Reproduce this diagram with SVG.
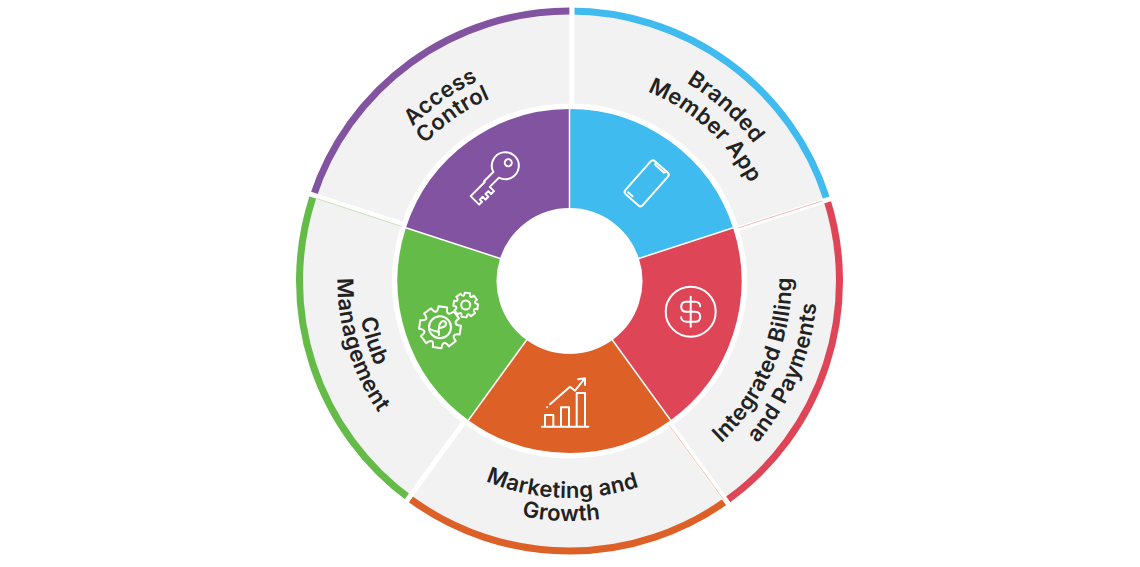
<svg xmlns="http://www.w3.org/2000/svg" width="1140" height="567" viewBox="0 0 1140 567">
<style>
.gray{fill:none;stroke:#f2f2f2;stroke-width:89.5}
.ring,.core{fill:none}
.ring{stroke-width:7}
.core{stroke-width:99}
.ic{fill:none;stroke:#fff;stroke-width:2;stroke-linejoin:round;stroke-linecap:round}
.lb{font-family:"Inter","Liberation Sans",sans-serif;font-weight:600;font-size:22px;letter-spacing:.3px;fill:#222;text-anchor:middle}
.sp{stroke:#fff;stroke-width:5}
.th{stroke:#fff;stroke-width:1.5}
.hair{stroke-width:.6;opacity:.6}
</style>
<defs>
<path id="aG" d="M569.5 58.75A222.25 222.25 0 0 1 780.87 212.32"/>
<path id="aR" d="M569.5 11A270 270 0 0 1 826.28 197.57"/>
<path id="aC" d="M569.5 158.5A122.5 122.5 0 0 1 686 243.14"/>
<path id="t1" d="M428.08 112.48A220 220 0 0 1 710.92 112.48"/>
<path id="t2" d="M441.58 128.57A199 199 0 0 1 697.42 128.57"/>
<path id="t3" d="M421.66 104.82A230 230 0 0 1 717.34 104.82"/>
<path id="t4" d="M437.73 123.97A205 205 0 0 1 701.27 123.97"/>
<path id="b1" d="M430.01 447.22A217 217 0 0 0 708.99 447.22"/>
<path id="b2" d="M415.23 464.84A240 240 0 0 0 723.77 464.84"/>
<path id="b3" d="M433.23 443.39A212 212 0 0 0 705.77 443.39"/>
<path id="b4" d="M420.37 458.71A232 232 0 0 0 718.63 458.71"/>
<path id="b5" d="M426.8 451.05A222 222 0 0 0 712.2 451.05"/>
<path id="b6" d="M410.09 470.97A248 248 0 0 0 728.91 470.97"/>
<path id="gear" vector-effect="non-scaling-stroke" d="M-4.16-19.56L4.16-19.56C4.09-13.39 6.57-12.36 10.89-16.77L16.77-10.89C12.36-6.57 13.39-4.09 19.56-4.16L19.56 4.16C13.39 4.09 12.36 6.57 16.77 10.89L10.89 16.77C6.57 12.36 4.09 13.39 4.16 19.56L-4.16 19.56C-4.09 13.39-6.57 12.36-10.89 16.77L-16.77 10.89C-12.36 6.57-13.39 4.09-19.56 4.16L-19.56-4.16C-13.39-4.09-12.36-6.57-16.77-10.89L-10.89-16.77C-6.57-12.36-4.09-13.39-4.16-19.56Z"/>
</defs>
<rect width="1140" height="567" fill="#fff"/>

<g id="branded-member-app">
<use href="#aG" class="gray"/>
<use href="#aR" class="ring" stroke="#3fbbef"/>
<use href="#aC" class="core" stroke="#3fbbef"/>
<g class="ic" transform="translate(646.7 183.3) rotate(41.5)">
<rect x="-11.5" y="-22" width="23" height="44" rx="3"/>
<path d="M-7-22L-6-19.5H6L7-22M-8 19H-2"/>
</g>
<text class="lb" transform="rotate(42 569.5 281)"><textPath href="#t3" startOffset="50%">Branded</textPath></text>
<text class="lb" transform="rotate(42 569.5 281)"><textPath href="#t4" startOffset="50%">Member App</textPath></text>
</g>

<g id="integrated-billing">
<use href="#aG" class="gray" transform="rotate(72 569.5 281)"/>
<use href="#aR" class="ring" stroke="#de4657" transform="rotate(72 569.5 281)"/>
<use href="#aC" class="core" stroke="#de4657" transform="rotate(72 569.5 281)"/>
<g class="ic" transform="translate(690.7 311.7)">
<circle r="25"/>
<path d="M0-15V15M9.5-5.5C9.5-8 7.5-10 4.5-10H-4.5C-7.5-10-9.5-8-9.5-5C-9.5-2-7.5 0-4.5 0H4.5C7.5 0 9.5 2 9.5 5C9.5 8 7.5 10 4.5 10H-4.5C-7.5 10-9.5 8-9.5 5.5"/>
</g>
<text class="lb" transform="rotate(-67 569.5 281)"><textPath href="#b5" startOffset="50%">Integrated Billing</textPath></text>
<text class="lb" transform="rotate(-67 569.5 281)"><textPath href="#b6" startOffset="50%">and Payments</textPath></text>
</g>

<g id="marketing-growth">
<use href="#aG" class="gray" transform="rotate(144 569.5 281)"/>
<use href="#aR" class="ring" stroke="#dd6027" transform="rotate(144 569.5 281)"/>
<use href="#aC" class="core" stroke="#dd6027" transform="rotate(144 569.5 281)"/>
<g class="ic">
<path d="M542 426.7H588.3M545 426.7V415H553.3V426.7M561 426.7V407.3H569V426.7M576.7 426.7V393H585V426.7"/>
<path d="M550 404.3L570 386.7L575 390.7L584.3 379M578.3 379.3L585 378.3V385M547 407.3h.2"/>
</g>
<text class="lb" transform="rotate(2 569.5 281)"><textPath href="#b1" startOffset="50%">Marketing and</textPath></text>
<text class="lb" transform="rotate(2 569.5 281)"><textPath href="#b2" startOffset="50%">Growth</textPath></text>
</g>

<g id="club-management">
<use href="#aG" class="gray" transform="rotate(216 569.5 281)"/>
<use href="#aR" class="ring" stroke="#65bb47" transform="rotate(216 569.5 281)"/>
<use href="#aC" class="core" stroke="#65bb47" transform="rotate(216 569.5 281)"/>
<g class="ic">
<use href="#gear" transform="translate(440 327.3) rotate(8) scale(1.05)"/>
<circle cx="440" cy="327.3" r="11"/>
<path d="M439 335C438 329 439 322 443 321C447 321 447 326 443 327C441 328 440 328 439 328M430 329C433 331 436 331 439 332"/>
<use href="#gear" transform="translate(465.7 305) rotate(8) scale(.62)"/>
<circle cx="465.7" cy="305" r="4.5"/>
</g>
<text class="lb" transform="rotate(73 569.5 281)"><textPath href="#b3" startOffset="50%">Club</textPath></text>
<text class="lb" transform="rotate(73 569.5 281)"><textPath href="#b4" startOffset="50%">Management</textPath></text>
</g>

<g id="access-control">
<use href="#aG" class="gray" transform="rotate(288 569.5 281)"/>
<use href="#aR" class="ring" stroke="#8253a0" transform="rotate(288 569.5 281)"/>
<use href="#aC" class="core" stroke="#8253a0" transform="rotate(288 569.5 281)"/>
<g class="ic" transform="translate(505.3 165.7) rotate(135)">
<path d="M12.9 4H26V3H46V-3V-9H42V-6H38V-10H34V-6H30V-10H26V-4H12.9A13.5 13.5 0 1 0 12.9 4Z"/>
<circle cx="-4.2" cy="0" r="3.5"/>
</g>
<text class="lb" transform="rotate(-35 569.5 281)"><textPath href="#t1" startOffset="50%">Access</textPath></text>
<text class="lb" transform="rotate(-35 569.5 281)"><textPath href="#t2" startOffset="50%">Control</textPath></text>
</g>

<g id="connectors">
<g id="spokes">
<path id="s0" class="sp" d="M572 2V105"/>
<use href="#s0" transform="rotate(72 569.5 281)"/>
<use href="#s0" transform="rotate(144 569.5 281)"/>
<use href="#s0" transform="rotate(216 569.5 281)"/>
<use href="#s0" transform="rotate(288 569.5 281)"/>
</g>
<g id="inner-dividers">
<path id="d0" class="th" d="M569.5 108V209"/>
<use href="#d0" transform="rotate(72 569.5 281)"/>
<use href="#d0" transform="rotate(144 569.5 281)"/>
<use href="#d0" transform="rotate(216 569.5 281)"/>
<use href="#d0" transform="rotate(288 569.5 281)"/>
</g>
<path class="hair" stroke="#65bb47" d="M316.5 198.5L402 226.5"/>
<path class="hair" stroke="#dd6027" d="M669 425L723.5 499.5"/>
<path class="hair" stroke="#de4657" d="M738 228L822 201"/>
</g>
</svg>
